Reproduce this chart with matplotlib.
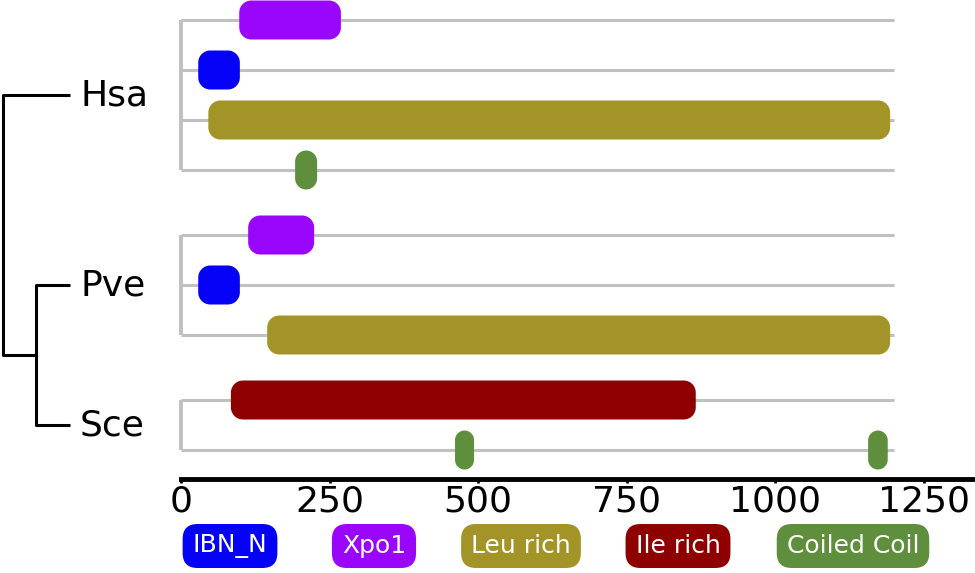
import matplotlib
matplotlib.use("Agg")
import matplotlib.pyplot as plt
from matplotlib.patches import PathPatch
from matplotlib.path import Path
from matplotlib import transforms

# species, protein length and domain tracks (start, end in residues)
species = ["Hsa", "Pve", "Sce"]
lengths = [1200, 1200, 1200]

hsa_tracks = [
    [("Xpo1", 98, 269)],
    [("IBN_N", 29, 99)],
    [("Leu rich", 46, 1193)],
    [("Coiled Coil", 192, 229)],
]
pve_tracks = [
    [("Xpo1", 113, 224)],
    [("IBN_N", 29, 99)],
    [("Leu rich", 145, 1193)],
]
sce_tracks = [
    [("Ile rich", 84, 866)],
    [("Coiled Coil", 461, 493), ("Coiled Coil", 1156, 1189)],
]
tracks = [hsa_tracks, pve_tracks, sce_tracks]

legend_names = ["IBN_N", "Xpo1", "Leu rich", "Ile rich", "Coiled Coil"]
colors = {
    "IBN_N": "#0500f6",
    "Xpo1": "#9a06fb",
    "Leu rich": "#a39427",
    "Ile rich": "#8f0000",
    "Coiled Coil": "#5f8f3c",
}
xticks = [0, 250, 500, 750, 1000, 1250]

NARROW = ["DejaVu Sans Condensed", "Liberation Sans Narrow", "DejaVu Sans"]

W, H = 975, 573
fig = plt.figure(figsize=(W / 100, H / 100), dpi=100)

# axes: x=0 at px 181, spine at px 479, top at px 0
px_per_res = 0.5944
px_per_row = 50.0
ax_left, ax_bottom_px = 181, 479
xmax = (W - ax_left) / px_per_res
ax = fig.add_axes([ax_left / W, 1 - ax_bottom_px / H, (W - ax_left) / W, ax_bottom_px / H])
ax.set_xlim(0, xmax)
top_row = -20 / px_per_row
ax.set_ylim(top_row + ax_bottom_px / px_per_row, top_row)

group_gap = 1.3
box_h = 39 / px_per_row
gray = "#c0c0c0"
K = 0.5523


def rounded_box(x0, y0, w, h, rx, ry):
    """closed path of a rectangle with elliptical corners (cubic beziers)"""
    x1, y1 = x0 + w, y0 + h
    v = [(x0 + rx, y0), (x1 - rx, y0),
         (x1 - rx + K * rx, y0), (x1, y0 + ry - K * ry), (x1, y0 + ry),
         (x1, y1 - ry),
         (x1, y1 - ry + K * ry), (x1 - rx + K * rx, y1), (x1 - rx, y1),
         (x0 + rx, y1),
         (x0 + rx - K * rx, y1), (x0, y1 - ry + K * ry), (x0, y1 - ry),
         (x0, y0 + ry),
         (x0, y0 + ry - K * ry), (x0 + rx - K * rx, y0), (x0 + rx, y0),
         (x0 + rx, y0)]
    c = [Path.MOVETO, Path.LINETO,
         Path.CURVE4, Path.CURVE4, Path.CURVE4,
         Path.LINETO,
         Path.CURVE4, Path.CURVE4, Path.CURVE4,
         Path.LINETO,
         Path.CURVE4, Path.CURVE4, Path.CURVE4,
         Path.LINETO,
         Path.CURVE4, Path.CURVE4, Path.CURVE4,
         Path.CLOSEPOLY]
    return Path(v, c)


row = 0.0
centres = []
for sp, L, trk in zip(species, lengths, tracks):
    rows = []
    for t in trk:
        rows.append(row)
        row += 1
    row += group_gap - 1
    centres.append((rows[0] + rows[-1]) / 2)
    ax.plot([0, 0], [rows[0], rows[-1]], color=gray, lw=2.8, solid_capstyle="butt",
            clip_on=False, zorder=1)
    for r, doms in zip(rows, trk):
        ax.plot([0, L], [r, r], color=gray, lw=2.2, solid_capstyle="butt", zorder=1)
        for name, s, e in doms:
            rad_px = min(12, (e - s) * px_per_res / 2)
            p = rounded_box(s, r - box_h / 2, e - s, box_h,
                            rad_px / px_per_res, rad_px / px_per_row)
            ax.add_patch(PathPatch(p, fc=colors[name], ec="none", zorder=2))

# tree on the left (x in figure px, y in data rows)
tr = transforms.blended_transform_factory(
    transforms.Affine2D().scale(1 / W, 1) + fig.transFigure, ax.transData)
root_x, node_x, leaf_x = 3, 36, 70
node_y = (centres[1] + centres[2]) / 2
kw = dict(color="black", lw=2.2, transform=tr, clip_on=False, solid_capstyle="butt")
ax.plot([leaf_x, root_x, root_x, node_x], [centres[0], centres[0], node_y, node_y], **kw)
ax.plot([leaf_x, node_x, node_x, leaf_x], [centres[1], centres[1], centres[2], centres[2]], **kw)
for sp, c in zip(species, centres):
    ax.text(80, c, sp, transform=tr, fontsize=26, va="center", ha="left", clip_on=False)

# axis styling
for s in ["top", "right", "left"]:
    ax.spines[s].set_visible(False)
ax.spines["bottom"].set_linewidth(3.5)
ax.set_yticks([])
ax.set_xticks(xticks)
ax.tick_params(axis="x", direction="out", length=3, width=2, labelsize=26, pad=1)
for lab in ax.get_xticklabels():
    lab.set_family(NARROW)

# legend boxes
legend_x = [230, 374, 521, 678, 853]
for name, lx in zip(legend_names, legend_x):
    fig.text(lx / W, 1 - 546 / H, name, color="white", fontsize=18, ha="center", va="center",
             family=NARROW,
             bbox=dict(boxstyle="round,pad=0.4,rounding_size=0.6", fc=colors[name], ec="none"))

fig.savefig("out.png", dpi=100)
